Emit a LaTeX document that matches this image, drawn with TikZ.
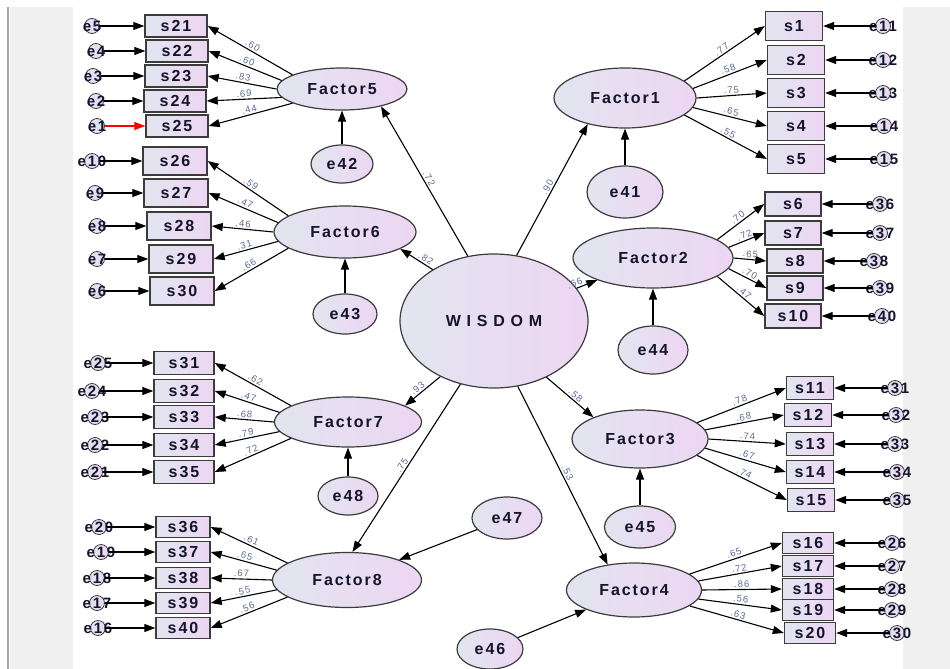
\documentclass[tikz,border=0pt]{standalone}
\usepackage{fontspec}
\usetikzlibrary{shapes.geometric,arrows.meta}
\newfontfamily\amosfont[LetterSpace=12]{Liberation Sans Bold}
\newfontfamily\widefont[LetterSpace=36]{Liberation Sans Bold}
\newfontfamily\coeffont[LetterSpace=10]{Liberation Sans}
\definecolor{fillL}{RGB}{226,229,240}
\definecolor{fillR}{RGB}{237,214,242}
\definecolor{rimgray}{RGB}{60,60,60}
\definecolor{coefblue}{RGB}{90,108,150}
\definecolor{stripgray}{RGB}{240,240,240}
\definecolor{inkdark}{RGB}{20,20,45}
\begin{document}
\begin{tikzpicture} [
        x=1pt, y=-1pt,
        >={Triangle[length=11pt,width=8pt]},
        square/.style={draw=rimgray, rectangle, line width=1.4pt, left color=fillL, right color=fillR, text=inkdark, inner sep=0pt, font=\amosfont\fontsize{16}{16}\selectfont},
        sqf5/.style={minimum width=62pt, minimum height=22pt},
        sqf6/.style={minimum width=64pt, minimum height=28pt},
        sqf7/.style={minimum width=60pt, minimum height=23pt},
        sqf8/.style={minimum width=54pt, minimum height=21pt},
        sqf1/.style={minimum width=57pt, minimum height=29pt},
        sqf2/.style={minimum width=56pt, minimum height=24pt},
        sqf3/.style={minimum width=47pt, minimum height=23pt},
        sqf4/.style={minimum width=51pt, minimum height=21pt},
        latent/.style={draw=rimgray, ellipse, line width=1.2pt, left color=fillL, right color=fillR, text=inkdark, inner sep=0pt, font=\amosfont\fontsize{16}{16}\selectfont},
        errc/.style={draw=rimgray, circle, line width=0.8pt, left color=fillL, right color=fillR, minimum size=15pt, inner sep=0pt},
        every label/.style={text=inkdark, inner sep=0pt, font=\amosfont\fontsize{15}{15}\selectfont},
        coef/.style={sloped, above, pos=0.5, inner sep=1.5pt, text=coefblue, font=\coeffont\fontsize{9.5}{9.5}\selectfont},
        every edge/.append style={line width=1.1pt} ]
    % frame of the window
    \useasboundingbox (0,0) rectangle (950,669);
    \fill[white] (0,0) rectangle (950,669);
    \fill[stripgray] (10,7) rectangle (73,669);
    \draw[line width=2pt, gray!70] (8,7) -- (8,669);
    \fill[stripgray] (903,7) rectangle (950,669);

    % latent variables
    \node[latent, minimum width=188pt, minimum height=134pt, font=\widefont\fontsize{16}{16}\selectfont] (WISDOM) at (494,321) {WISDOM};
    \node[latent, minimum width=130pt, minimum height=42pt] (Factor5) at (342,89) {Factor5};
    \node[latent, minimum width=142pt, minimum height=52pt] (Factor6) at (345,232) {Factor6};
    \node[latent, minimum width=147pt, minimum height=50pt] (Factor7) at (348,422) {Factor7};
    \node[latent, minimum width=149pt, minimum height=55pt] (Factor8) at (347,580) {Factor8};
    \node[latent, minimum width=142pt, minimum height=60pt] (Factor1) at (625,98) {Factor1};
    \node[latent, minimum width=160pt, minimum height=60pt] (Factor2) at (653,258) {Factor2};
    \node[latent, minimum width=136pt, minimum height=58pt] (Factor3) at (640,439) {Factor3};
    \node[latent, minimum width=135pt, minimum height=54pt] (Factor4) at (634,590) {Factor4};

    % disturbances of the factors
    \node[latent, minimum width=76pt, minimum height=52pt] (e41) at (625,192) {e41};
    \node[latent, minimum width=62pt, minimum height=38pt] (e42) at (342,164) {e42};
    \node[latent, minimum width=64pt, minimum height=40pt] (e43) at (345,314) {e43};
    \node[latent, minimum width=70pt, minimum height=48pt] (e44) at (653,350) {e44};
    \node[latent, minimum width=71pt, minimum height=42pt] (e45) at (640,527) {e45};
    \node[latent, minimum width=66pt, minimum height=40pt] (e46) at (490,649) {e46};
    \node[latent, minimum width=70pt, minimum height=42pt] (e47) at (507,518) {e47};
    \node[latent, minimum width=60pt, minimum height=38pt] (e48) at (348,496) {e48};

    % items of Factor5
    \node[square, sqf5] (s21) at (176,26) {s21};
    \node[square, sqf5] (s22) at (177,51) {s22};
    \node[square, sqf5] (s23) at (176,76) {s23};
    \node[square, sqf5] (s24) at (175,101) {s24};
    \node[square, sqf5] (s25) at (177,126) {s25};
    \node[errc, label={center:e5}] (e5) at (92,26) {};
    \node[errc, label={center:e4}] (e4) at (96,51) {};
    \node[errc, label={center:e3}] (e3) at (93,76) {};
    \node[errc, label={center:e2}] (e2) at (96,101) {};
    \node[errc, label={center:e1}] (e1) at (97,126) {};

    % items of Factor6
    \node[square, sqf6] (s26) at (175,161) {s26};
    \node[square, sqf6] (s27) at (176,193) {s27};
    \node[square, sqf6] (s28) at (179,226) {s28};
    \node[square, sqf6] (s29) at (181,259) {s29};
    \node[square, sqf6] (s30) at (182,291) {s30};
    \node[errc, label={center:e10}] (e10) at (92,161) {};
    \node[errc, label={center:e9}] (e9) at (95,193) {};
    \node[errc, label={center:e8}] (e8) at (97,226) {};
    \node[errc, label={center:e7}] (e7) at (97,259) {};
    \node[errc, label={center:e6}] (e6) at (97,291) {};

    % items of Factor7
    \node[square, sqf7] (s31) at (184,363) {s31};
    \node[square, sqf7] (s32) at (184,391) {s32};
    \node[square, sqf7] (s33) at (184,417) {s33};
    \node[square, sqf7] (s34) at (184,445) {s34};
    \node[square, sqf7] (s35) at (184,472) {s35};
    \node[errc, label={center:e25}] (e25) at (98,363) {};
    \node[errc, label={center:e24}] (e24) at (92,391) {};
    \node[errc, label={center:e23}] (e23) at (95,417) {};
    \node[errc, label={center:e22}] (e22) at (95,445) {};
    \node[errc, label={center:e21}] (e21) at (95,472) {};

    % items of Factor8
    \node[square, sqf8] (s36) at (183,527) {s36};
    \node[square, sqf8] (s37) at (183,552) {s37};
    \node[square, sqf8] (s38) at (183,578) {s38};
    \node[square, sqf8] (s39) at (183,603) {s39};
    \node[square, sqf8] (s40) at (183,628) {s40};
    \node[errc, label={center:e20}] (e20) at (99,527) {};
    \node[errc, label={center:e19}] (e19) at (101,552) {};
    \node[errc, label={center:e18}] (e18) at (97,578) {};
    \node[errc, label={center:e17}] (e17) at (97,603) {};
    \node[errc, label={center:e16}] (e16) at (98,628) {};

    % items of Factor1
    \node[square, sqf1] (s1) at (794,26) {s1};
    \node[square, sqf1] (s2) at (796,60) {s2};
    \node[square, sqf1] (s3) at (796,93) {s3};
    \node[square, sqf1] (s4) at (796,126) {s4};
    \node[square, sqf1] (s5) at (796,159) {s5};
    \node[errc, label={center:e11}] (e11) at (883,26) {};
    \node[errc, label={center:e12}] (e12) at (883,60) {};
    \node[errc, label={center:e13}] (e13) at (883,93) {};
    \node[errc, label={center:e14}] (e14) at (884,126) {};
    \node[errc, label={center:e15}] (e15) at (884,159) {};

    % items of Factor2
    \node[square, sqf2] (s6) at (793,204) {s6};
    \node[square, sqf2] (s7) at (793,233) {s7};
    \node[square, sqf2] (s8) at (795,261) {s8};
    \node[square, sqf2] (s9) at (795,288) {s9};
    \node[square, sqf2] (s10) at (793,316) {s10};
    \node[errc, label={center:e36}] (e36) at (880,204) {};
    \node[errc, label={center:e37}] (e37) at (880,233) {};
    \node[errc, label={center:e38}] (e38) at (874,261) {};
    \node[errc, label={center:e39}] (e39) at (880,288) {};
    \node[errc, label={center:e40}] (e40) at (882,316) {};

    % items of Factor3
    \node[square, sqf3] (s11) at (810,388) {s11};
    \node[square, sqf3] (s12) at (808,415) {s12};
    \node[square, sqf3] (s13) at (810,444) {s13};
    \node[square, sqf3] (s14) at (810,472) {s14};
    \node[square, sqf3] (s15) at (811,500) {s15};
    \node[errc, label={center:e31}] (e31) at (895,388) {};
    \node[errc, label={center:e32}] (e32) at (896,415) {};
    \node[errc, label={center:e33}] (e33) at (895,444) {};
    \node[errc, label={center:e34}] (e34) at (897,472) {};
    \node[errc, label={center:e35}] (e35) at (897,500) {};

    % items of Factor4
    \node[square, sqf4] (s16) at (808,543) {s16};
    \node[square, sqf4] (s17) at (808,566) {s17};
    \node[square, sqf4] (s18) at (808,589) {s18};
    \node[square, sqf4] (s19) at (808,610) {s19};
    \node[square, sqf4] (s20) at (810,633) {s20};
    \node[errc, label={center:e26}] (e26) at (892,543) {};
    \node[errc, label={center:e27}] (e27) at (892,566) {};
    \node[errc, label={center:e28}] (e28) at (892,589) {};
    \node[errc, label={center:e29}] (e29) at (892,610) {};
    \node[errc, label={center:e30}] (e30) at (897,633) {};

    % second order paths
    \draw (WISDOM.112) edge[->] node[coef] {.72} (Factor5.-24);
    \draw (WISDOM.140) edge[->] node[coef, pos=0.3] {.82} (Factor6.-17);
    \draw (WISDOM.226) edge[->] node[coef, pos=0.55] {.93} (Factor7.16);
    \draw (WISDOM.242) edge[->] node[coef] {.75} (Factor8.79);
    \draw (WISDOM.71) edge[->] node[coef] {.90} (Factor1.215);
    \draw (WISDOM) edge[->] node[coef, pos=0] {.66} (Factor2);
    \draw (WISDOM.-47) edge[->] node[coef, pos=0.55] {.58} (Factor3.155);
    \draw (WISDOM.-70) edge[->] node[coef] {.53} (Factor4.136);

    % disturbances into factors
    \draw (e41) edge[->] (Factor1);
    \draw (e42) edge[->] (Factor5);
    \draw (e43) edge[->] (Factor6);
    \draw (e44) edge[->] (Factor2);
    \draw (e45) edge[->] (Factor3);
    \draw (e46) edge[->] (Factor4);
    \draw (e47) edge[->] (Factor8);
    \draw (e48) edge[->] (Factor7);

    % loadings, left side
    \draw (Factor5.164) edge[->] node[coef] {.60} (s21.east);
    \draw (Factor5.172) edge[->] node[coef] {.60} (s22.east);
    \draw (Factor5.180) edge[->] node[coef] {.83} (s23.east);
    \draw (Factor5.188) edge[->] node[coef] {.69} (s24.east);
    \draw (Factor5.196) edge[->] node[coef] {.44} (s25.east);
    \draw (Factor6.164) edge[->] node[coef] {.59} (s26.east);
    \draw (Factor6.172) edge[->] node[coef] {.47} (s27.east);
    \draw (Factor6.180) edge[->] node[coef] {.46} (s28.east);
    \draw (Factor6.188) edge[->] node[coef] {.31} (s29.east);
    \draw (Factor6.196) edge[->] node[coef] {.66} (s30.east);
    \draw (Factor7.164) edge[->] node[coef] {.62} (s31.east);
    \draw (Factor7.172) edge[->] node[coef] {.47} (s32.east);
    \draw (Factor7.180) edge[->] node[coef] {.68} (s33.east);
    \draw (Factor7.188) edge[->] node[coef] {.79} (s34.east);
    \draw (Factor7.196) edge[->] node[coef] {.72} (s35.east);
    \draw (Factor8.164) edge[->] node[coef] {.61} (s36.east);
    \draw (Factor8.172) edge[->] node[coef] {.65} (s37.east);
    \draw (Factor8.180) edge[->] node[coef] {.67} (s38.east);
    \draw (Factor8.188) edge[->] node[coef] {.55} (s39.east);
    \draw (Factor8.196) edge[->] node[coef] {.56} (s40.east);

    % loadings, right side
    \draw (Factor1.16) edge[->] node[coef] {.77} (s1.west);
    \draw (Factor1.8) edge[->] node[coef] {.58} (s2.west);
    \draw (Factor1.0) edge[->] node[coef] {.75} (s3.west);
    \draw (Factor1.-8) edge[->] node[coef] {.65} (s4.west);
    \draw (Factor1.-16) edge[->] node[coef] {.55} (s5.west);
    \draw (Factor2.16) edge[->] node[coef] {.70} (s6.west);
    \draw (Factor2.8) edge[->] node[coef] {.72} (s7.west);
    \draw (Factor2.0) edge[->] node[coef] {.65} (s8.west);
    \draw (Factor2.-8) edge[->] node[coef] {.70} (s9.west);
    \draw (Factor2.-16) edge[->] node[coef] {.47} (s10.west);
    \draw (Factor3.16) edge[->] node[coef] {.78} (s11.west);
    \draw (Factor3.8) edge[->] node[coef] {.68} (s12.west);
    \draw (Factor3.0) edge[->] node[coef] {.74} (s13.west);
    \draw (Factor3.-8) edge[->] node[coef] {.67} (s14.west);
    \draw (Factor3.-16) edge[->] node[coef] {.74} (s15.west);
    \draw (Factor4.16) edge[->] node[coef] {.65} (s16.west);
    \draw (Factor4.8) edge[->] node[coef] {.72} (s17.west);
    \draw (Factor4.0) edge[->] node[coef] {.86} (s18.west);
    \draw (Factor4.-8) edge[->] node[coef] {.56} (s19.west);
    \draw (Factor4.-16) edge[->] node[coef] {.63} (s20.west);

    % item errors
    \draw (e5) edge[->] (s21);
    \draw (e4) edge[->] (s22);
    \draw (e3) edge[->] (s23);
    \draw (e2) edge[->] (s24);
    \draw (e1) edge[->, red] (s25);
    \draw (e10) edge[->] (s26);
    \draw (e9) edge[->] (s27);
    \draw (e8) edge[->] (s28);
    \draw (e7) edge[->] (s29);
    \draw (e6) edge[->] (s30);
    \draw (e25) edge[->] (s31);
    \draw (e24) edge[->] (s32);
    \draw (e23) edge[->] (s33);
    \draw (e22) edge[->] (s34);
    \draw (e21) edge[->] (s35);
    \draw (e20) edge[->] (s36);
    \draw (e19) edge[->] (s37);
    \draw (e18) edge[->] (s38);
    \draw (e17) edge[->] (s39);
    \draw (e16) edge[->] (s40);
    \draw (e11) edge[->] (s1);
    \draw (e12) edge[->] (s2);
    \draw (e13) edge[->] (s3);
    \draw (e14) edge[->] (s4);
    \draw (e15) edge[->] (s5);
    \draw (e36) edge[->] (s6);
    \draw (e37) edge[->] (s7);
    \draw (e38) edge[->] (s8);
    \draw (e39) edge[->] (s9);
    \draw (e40) edge[->] (s10);
    \draw (e31) edge[->] (s11);
    \draw (e32) edge[->] (s12);
    \draw (e33) edge[->] (s13);
    \draw (e34) edge[->] (s14);
    \draw (e35) edge[->] (s15);
    \draw (e26) edge[->] (s16);
    \draw (e27) edge[->] (s17);
    \draw (e28) edge[->] (s18);
    \draw (e29) edge[->] (s19);
    \draw (e30) edge[->] (s20);
\end{tikzpicture}
\end{document}
